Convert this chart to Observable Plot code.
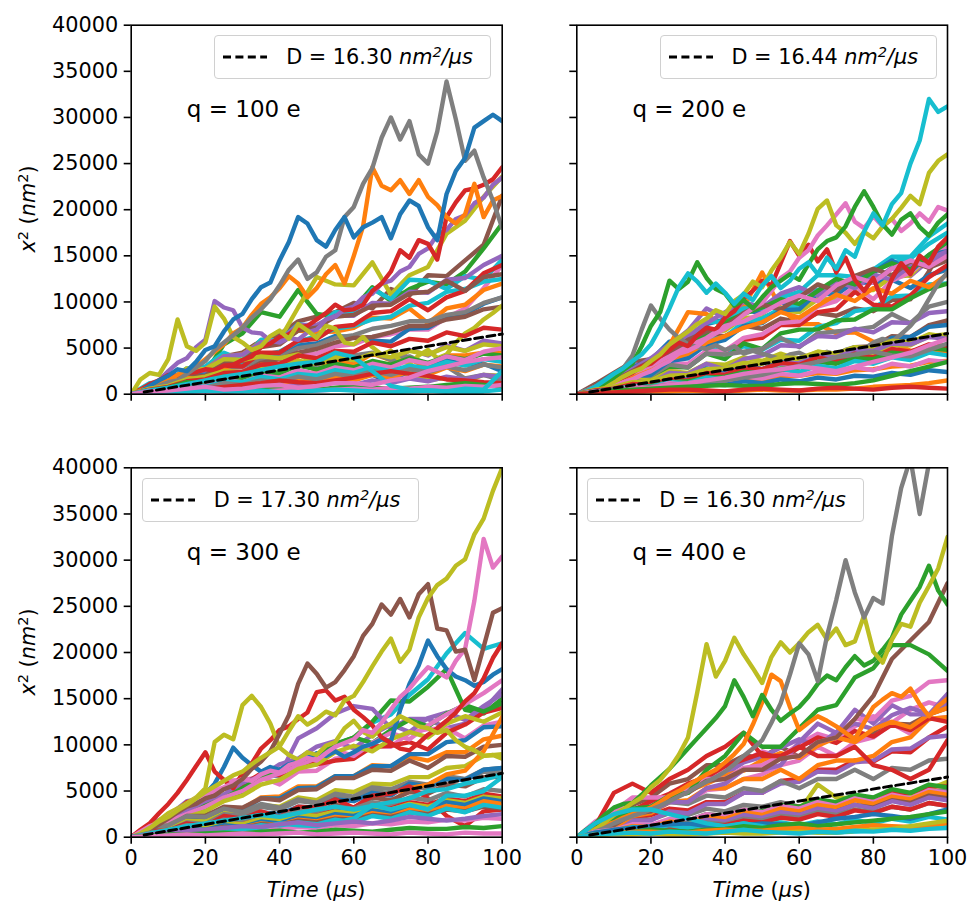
<!DOCTYPE html>
<html>
<head>
<meta charset="utf-8">
<script src="https://cdn.jsdelivr.net/npm/d3@7"></script>
<script src="https://cdn.jsdelivr.net/npm/@observablehq/plot@0.6"></script>
<style>
  html, body { margin: 0; padding: 0; background: #fff; }
  #fig { position: relative; width: 972px; height: 905px; font-family: "DejaVu Sans", sans-serif; color: #000; }
  #fig > svg { position: absolute; }
  .legend { position: absolute; box-sizing: border-box; width: 277px; height: 44px; border: 1.5px solid #d0d0d0; border-radius: 4px;
            background: rgba(255,255,255,0.8); display: flex; align-items: center; padding-left: 8px; font-size: 20.8px; white-space: nowrap; }
  .legend svg { flex: none; margin-right: 19px; }
  .sup { font-size: 0.7em; position: relative; top: -0.5em; }
  .ylab { position: absolute; font-size: 20.8px; white-space: nowrap; transform: translate(-50%, -50%) rotate(-90deg); }
  .xlab { position: absolute; font-size: 20.8px; white-space: nowrap; transform: translate(-50%, -50%); }
</style>
</head>
<body>
<div id="fig"></div>
<script>
// Matplotlib "tab10" colour cycle, keyed C0..C9
const seriesKeys = ["C0", "C1", "C2", "C3", "C4", "C5", "C6", "C7", "C8", "C9"];
const tab10 = ["#1f77b4", "#ff7f0e", "#2ca02c", "#d62728", "#9467bd", "#8c564b", "#e377c2", "#7f7f7f", "#bcbd22", "#17becf"];

const charges = [100, 200, 300, 400];          // q (e)
const diffusion = [16.30, 16.44, 17.30, 16.30]; // fitted D (nm^2/us)
const xTicks = [0, 20, 40, 60, 80, 100];
const yTicks = [0, 5000, 10000, 15000, 20000, 25000, 30000, 35000, 40000];
const fitStart = 3.5;                 // first time (us) of the fitted line
const chargeLabelAt = [15, 30000];    // data position of the "q = ... e" note

// Sampling times (us): fine grid for the leading trajectories, coarse grid for the rest
const timeFine = [0,2.5,5,7.5,10,12.5,15,17.5,20,22.5,25,27.5,30,32.5,35,37.5,40,42.5,45,47.5,
                  50,52.5,55,57.5,60,62.5,65,67.5,70,72.5,75,77.5,80,82.5,85,87.5,90,92.5,95,97.5,100];
const timeCoarse = [0,5,10,15,20,25,30,35,40,45,50,55,60,65,70,75,80,85,90,95,100];

// Squared displacement x^2 (nm^2) of each trajectory, in drawing order
const trajQ100 = [
  ["C5", [0,600,1100,2300,2900,4100,4500,5800,6500,7900, 8400,8900,9900,9300,11400,10700,12900,12800,14500,16200,21500]],
  ["C2", [0,900,1300,2400,2300,5400,6600,8900,8400,11300, 8700,8400,9300,11600,10100,11400,12200,11900,13300,15800,18500]],
  ["C8", [0,700,900,2000,2400,3700,4300,5700,5900,9400, 12700,11900,11800,14300,10800,12900,13800,17400,18800,21400,23600]],
  ["C9", [0,1200,1400,2800,3000,4500,3700,5900,5800,7600, 7300,8900,8800,11400,10300,12400,12300,11400,12800,12400,14600]],
  ["C6", [0,500,600,1200,1700,2700,2800,3400,3300,4300, 4400,5200,5400,6200,6500,7000,7000,8300,9300,11500,14000]],
  ["C1", [0,800,1300,2500,2700,4100,4300,5600,5700,6900, 6700,6800,7200,8300,8200,9300,7700,9300,9700,11300,12000]],
  ["C0", [0,700,1000,2100,2200,3300,3200,4100,4200,5300, 5500,6300,6200,5800,5700,7100,7200,8300,8700,9800,10500]],
  ["C9", [0,700,900,1700,2000,3000,3200,4200,4600,5700, 6300,7100,7400,8100,8400,9600,9900,11100,11400,12200,12500]],
  ["C7", [0,600,800,1600,1800,2800,3000,3800,4000,5000, 5300,6100,6400,7100,7400,7900,7900,8600,8900,9900,10500]],
  ["C3", [0,600,700,1800,1700,3100,3000,4500,4500,5800, 6000,7300,7500,8800,9000,10300,9100,10500,11200,13100,14000]],
  ["C4", [0,800,1100,2400,2600,4100,4300,5600,5800,7500, 7500,8500,8500,9900,9800,11100,11000,12400,12600,14000,15000]],
  ["C5", [0,600,800,1900,2000,3400,3600,5100,5400,6900, 7200,8400,8600,9600,9700,10900,11100,12300,11200,12700,13000]],
  ["C5", [0,600,600,1400,1300,2200,2400,3400,3800,4500, 4900,5600,6100,6200,6700,7400,7400,8100,8400,9200,9500]],
  ["C4", [0,500,400,1300,1200,2300,2200,2500,2200,3300, 2700,3800,3200,3300,3200,4800,4200,5300,4700,5800,5500]],
  ["C8", [0,1000,1300,2800,2700,3800,3700,4100,3900,4300, 3300,3500,2700,2900,1900,2300,1500,1800,1300,2100,2000]],
  ["C1", [0,800,1000,1800,1500,2700,2200,3200,2900,3700, 2500,3600,3200,4400,3700,3800,2900,4200,4200,4500,4500]],
  ["C0", [0,700,600,1300,900,1800,800,1700,1500,2300, 1900,2900,1700,2100,1200,2700,2700,3700,3200,3300,2500]],
  ["C7", [0,500,300,1100,800,1700,1500,2300,2200,3300, 3200,4300,4200,4500,3700,4100,3200,3000,1700,2100,1500]],
  ["C4", [0,300,800,1500,2500,3400,3900,5100,5900,10100, 9400,9100,7200,6700,6600,5800,5600,6100,5900,6700,
          7000,8100,8400,9200,9500,10500,10900,12000,12300,13300, 13800,15200,15800,17300,17800,19000,19400,20700,21300,22700,23500]],
  ["C3", [0,500,1100,1500,2100,2000,2300,2400,2700,2600, 3100,3200,3700,4100,5100,5500,6200,6500,7200,7400,
          8100,8800,9700,9100,9200,9700,11200,12000,13300,15600, 14800,16700,16300,14600,19200,20800,22100,22300,22700,23300,24600]],
  ["C8", [0,1600,2300,2100,3800,8100,5200,4700,5600,9500, 8200,6200,5600,4800,5200,6300,6900,6000,7600,6900,
          6100,7400,7100,5600,5400,6200,5100,4300,4700,3600, 3300,4200,4800,3900,4300,5600,6600,7200,8100,8800,9600]],
  ["C1", [0,400,800,1300,1500,2100,2600,3000,3800,4600, 5400,6600,7200,8600,9800,10500,11500,12800,12000,10500,
          11500,13000,14000,12000,15000,18200,24600,22600,22100,23200, 21700,23200,21400,20500,19200,18500,19500,22800,19200,21000,21500]],
  ["C7", [0,200,400,900,1300,1500,2200,2900,3600,4800, 5600,6400,7200,8300,9200,10300,11800,13500,14600,12500,
          13200,14900,15600,19200,20300,22800,24500,27800,30000,27600, 29600,26000,25000,28500,33900,29800,25300,26400,23500,21000,18000]],
  ["C0", [0,300,900,1500,2000,2700,2500,3500,4800,5200, 6800,8100,8700,10300,11600,12100,14500,16500,19200,18500,
          16700,16000,17800,19200,17000,18100,18600,19200,16900,19500, 21000,20400,18100,16700,21700,24200,25600,28900,29600,30300,29600]],
  ["C8", [0,600,900,1600,1900,2500,2400,3100,3000,3600, 3300,4000,3700,4400,4000,4700,4300,5100,4700,5400,5200]],
  ["C3", [0,500,800,1400,1600,2300,2400,3200,3300,4200, 3900,4700,4600,5600,5200,6000,5800,6700,6300,7200,7000]],
  ["C2", [0,400,700,1300,1200,1900,1700,2600,2300,3100, 2700,3300,2900,3600,3200,3900,3400,4100,3800,4400,4200]],
  ["C6", [0,400,500,1000,900,1500,1300,2000,1800,2600, 2200,2900,2600,3300,2900,3700,3300,4100,3700,4600,5000]],
  ["C9", [0,300,600,900,800,1400,1300,1900,1600,2200, 2000,2600,2300,2900,2500,3100,2800,3500,3100,3800,3500]],
  ["C1", [0,300,400,700,600,1000,800,1300,1100,1500, 1300,1800,1500,2100,1800,2500,2100,2900,2500,3200,3000]],
  ["C7", [0,300,500,800,700,1200,1000,1500,1300,1900, 1600,2200,1900,2500,2100,2700,2400,3000,2600,3200,2900]],
  ["C4", [0,200,300,500,400,700,600,900,700,1100, 900,1300,1000,1500,1200,1700,1400,1900,1600,2100,1900]],
  ["C3", [0,200,300,500,600,800,1000,1200,1500,1300, 1200,1500,1800,2200,2500,2200,2000,1600,1500,1300,1200]],
  ["C2", [0,200,300,400,500,300,400,600,700,600, 500,700,900,700,600,700,800,1000,1200,1000,800]],
  ["C6", [0,100,200,200,300,300,400,300,400,500, 400,500,600,500,700,600,800,700,900,800,1000]],
  ["C9", [0,200,300,200,400,300,300,400,200,300, 400,500,400,300,200,300,400,300,200,300,500]],
  ["C9", [0,400,700,1100,1500,1900,2200,2600,3000,3300, 3500,4500,4000,2500,900,500,400,300,600,500,2500]],
  ["C6", [0,300,400,600,800,500,600,900,1000,700, 900,1200,1200,1000,1500,1800,2500,3000,3500,3800,4000]]
];

const trajQ200 = [
  ["C5", [0,1100,2300,3500,3800,5100,5300,6500,6300,7400, 7100,8200,7800,8800,8500,9300,9000,10200,10300,13300,17000]],
  ["C4", [0,700,1000,3300,2800,5300,6900,9300,8300,9800, 8800,10700,10800,11300,11800,11900,12200,13700,12800,14500,15000]],
  ["C0", [0,800,2200,2900,3700,5700,6100,7600,8100,9100, 8800,10000,9100,10900,10800,12200,12100,12400,11500,12900,13500]],
  ["C1", [0,500,600,1800,1800,5300,8900,8700,7100,9400, 13200,9300,7600,7600,6600,6700,5700,5600,4700,4900,4500]],
  ["C9", [0,700,1100,2500,2800,4700,5300,5300,4300,5200, 4800,5900,5800,7300,7700,9000,9300,10600,10700,11900,12000]],
  ["C8", [0,800,1300,2700,3300,4900,5500,6800,6900,8300, 8300,9100,8900,10300,10300,11300,11300,12700,12900,14900,16000]],
  ["C9", [0,600,800,2100,2200,3800,4200,5800,6200,7800, 8200,9300,9700,11300,11200,12800,13200,14300,14700,16300,17500]],
  ["C3", [0,500,500,1500,1500,2900,3000,4500,4700,5900, 6100,7500,7500,8900,9200,11100,9700,9500,10700,12700,14000]],
  ["C6", [0,600,700,1800,1900,3300,3300,4700,4700,6100, 6500,7700,7900,9500,10100,11700,10300,12300,13200,14800,16000]],
  ["C2", [0,500,600,1700,1700,3000,2900,4400,3800,5500, 4900,6600,7000,7000,8000,8100,9200,9200,10400,11400,12000]],
  ["C7", [0,700,900,1900,2000,3200,2900,4400,4300,4600, 4900,6100,5100,6600,6800,7000,7300,8700,7700,9500,10000]],
  ["C9", [0,700,1000,2300,2900,5100,6200,7800,7900,9300, 9300,10500,11100,12900,12900,12700,13500,14900,14900,17100,18500]],
  ["C0", [0,600,800,1900,2100,3600,3900,5400,5900,7400, 7700,9100,9200,11100,11300,12500,13200,14500,13300,15100,15500]],
  ["C4", [0,800,1600,2700,3900,5400,6300,7700,8900,10000, 9400,10900,11600,10700,12300,11500,13000,12400,13900,14700,15500]],
  ["C2", [0,600,1400,2200,3300,4300,5700,6400,7800,8700, 9400,10300,9800,11200,12500,11900,13300,14200,13500,15100,16500]],
  ["C5", [0,700,1500,2500,3600,4400,5900,6800,7300,8800, 9700,9200,10500,11900,11200,12800,13600,12900,14400,13700,14500]],
  ["C1", [0,400,1100,1900,2700,3800,4400,5600,6300,7200, 7800,8900,8300,9600,10800,10100,11500,10900,12300,11600,13000]],
  ["C6", [0,500,1300,2300,3100,4100,5200,6100,7400,7900, 8800,9900,10700,10100,11800,12700,12100,13600,14500,13800,15000]],
  ["C8", [0,600,700,1600,1500,2500,2300,3300,3200,4000, 3600,4400,3700,4600,4300,4700,4300,5300,5300,6300,6500]],
  ["C5", [0,500,300,1100,800,1500,1200,2100,1900,2900, 2700,3600,3200,4100,3700,5100,5200,6300,6200,7500,8000]],
  ["C4", [0,600,400,1500,1200,2300,2200,3300,2700,3800, 4200,5300,5200,6300,6200,7100,6700,7800,7700,8800,9000]],
  ["C0", [0,500,300,1200,900,1900,1700,2800,2200,3300, 2700,3500,3200,4300,4200,5100,4700,6100,6200,7300,7500]],
  ["C7", [0,300,800,1200,2100,2800,4200,7000,9600,8200, 7000,6100,5400,5100,4900,5300,4800,5200,4400,4700,
          4400,4100,3800,4300,4500,4000,4100,4600,4300,4800, 5100,4900,5600,6000,5700,6500,7400,8600,10300,12000,13200]],
  ["C3", [0,200,500,900,1200,1800,2300,3000,3300,4100, 4800,5600,5200,6400,7200,7000,8300,9000,10400,11200,
          12300,11800,14200,16600,15000,16200,14400,15700,13200,14800, 12400,11200,12600,10000,12500,14200,13000,15000,14200,16000,17000]],
  ["C6", [0,200,400,700,900,1300,1600,2100,2500,3100, 3600,4400,4700,5200,6000,6600,7100,7800,8600,9300,
          9900,11200,12600,13300,14800,15600,17200,18300,19500,20700, 18700,18000,19300,18200,19000,17700,18500,19600,18700,20300,19900]],
  ["C8", [0,200,500,1000,1300,1900,2400,2800,3600,4300, 5400,6100,6800,7600,8200,9100,8700,10100,10800,12200,
          11600,13400,14800,16500,15200,17400,20100,21000,18300,17500, 16300,17600,16900,18200,19000,20200,21500,20600,24000,25300,26000]],
  ["C2", [0,200,600,1200,1800,2600,3300,5200,7400,8900, 12300,11400,12200,14300,12600,11400,10900,9600,10200,9300,
          10500,11600,12300,13000,12400,14100,15700,16600,17000,18200, 20300,22000,20300,18400,17300,18900,19600,18100,17200,18600,19500]],
  ["C9", [0,300,800,1500,2200,2800,3600,4300,5400,7200, 9300,11600,13100,12200,11000,12000,11000,9800,10900,10200,
          11800,12800,11500,12300,13600,14300,13000,14800,13600,15600, 14900,17600,19600,18300,20600,21800,25000,27500,32000,30600,31200]],
  ["C8", [0,500,800,1300,1400,2000,2100,2700,2800,3400, 3300,4000,3900,4600,4400,5100,5000,5800,5600,6500,6200]],
  ["C4", [0,300,600,900,1000,1500,1600,2100,2200,2800, 2700,3300,3400,4100,4000,4800,4700,5500,5400,6200,6000]],
  ["C3", [0,400,600,1100,1000,1600,1500,2300,2100,2900, 2700,3400,3200,4000,3600,4400,4000,4900,4600,5400,5200]],
  ["C2", [0,300,500,800,900,1300,1400,1800,1900,2400, 2300,2800,2900,3500,3300,3900,3800,4500,4300,5000,4800]],
  ["C9", [0,300,500,900,800,1300,1200,1800,1600,2200, 2000,2700,2400,3100,2800,3600,3300,4000,3700,4500,4200]],
  ["C1", [0,200,400,500,700,900,1100,1200,1400,1600, 1500,1900,2000,2300,2200,2600,2700,3000,3100,3500,3600]],
  ["C6", [0,300,400,800,700,1200,1000,1500,1400,1900, 1700,2200,2000,2500,2300,2900,2600,3300,3000,3700,3500]],
  ["C0", [0,200,400,600,500,900,800,1100,1000,1400, 1200,1600,1400,1800,1600,2000,1900,2300,2100,2600,2400]],
  ["C7", [0,200,400,600,800,1000,1200,1400,1500,1800, 2100,2600,3100,3500,4000,4300,4600,4200,4100,4800,5500]],
  ["C6", [0,200,300,600,700,1000,1200,1500,1800,2200, 2500,2700,3000,2800,2500,3000,3500,4000,4500,5300,6000]],
  ["C2", [0,200,400,500,600,700,800,900,1000,900, 900,1100,1200,1100,1000,1200,1500,2000,2500,3000,3500]],
  ["C1", [0,100,200,200,300,300,400,300,300,400, 500,400,400,500,500,600,800,900,1000,1200,1500]],
  ["C3", [0,100,200,300,400,500,500,400,300,500, 600,500,400,600,700,600,500,700,800,700,600]]
];

const trajQ300 = [
  ["C9", [0,900,1300,2900,3200,4600,4800,6500,6700,8400, 8700,10100,10700,12400,13300,15400,17100,19900,22100,20400,21000]],
  ["C2", [0,800,1300,2600,2700,4400,4700,6500,7300,8400, 8300,10000,10800,12500,14800,14700,16300,18200,13800,13400,15000]],
  ["C4", [0,1400,2300,3900,4200,5300,5300,6700,6700,10700, 11800,13400,14200,13900,11800,12800,12800,11800,12300,13800,16000]],
  ["C6", [0,1000,1600,3500,4700,6100,6200,6500,5700,7100, 7200,8500,8800,9900,9800,11300,11700,11800,10700,12100,12500]],
  ["C3", [0,1200,2000,3800,4200,5300,5700,6900,6700,7900, 7900,8300,8500,9800,9900,10300,9500,11300,12200,13500,14000]],
  ["C4", [0,900,1900,2800,3800,4600,5900,6600,7900,8500, 9800,10400,9600,11100,12200,11400,12900,13500,12700,14200,15500]],
  ["C2", [0,700,1500,2300,3400,4200,5300,6400,7100,8300, 8900,10100,10800,10200,11600,12700,12000,13400,14300,13600,14500]],
  ["C6", [0,800,1700,2500,3300,4300,5000,6200,6900,7700, 8600,9400,8800,10200,11300,10600,12100,13300,14400,15600,17000]],
  ["C8", [0,600,1300,2200,2800,3900,4500,5700,6200,7400, 7900,9200,9900,9300,10600,11400,10800,12300,13100,12500,13500]],
  ["C1", [0,700,900,2000,2000,3200,3100,4300,4400,5500, 5500,6600,6600,7800,7700,8700,8300,9200,9200,10600,11000]],
  ["C0", [0,700,800,1900,1800,3100,3000,4200,4200,5300, 5400,6600,6600,7700,7700,9000,9000,10300,10500,11900,12000]],
  ["C5", [0,900,1100,2300,2300,3300,3200,4200,4000,5100, 5200,6400,6400,7300,7200,8300,7500,8800,8700,9800,10000]],
  ["C8", [0,700,800,1800,1700,2600,2500,3500,3300,4300, 4000,5100,4900,5800,5700,6500,6500,7500,7700,8800,9000]],
  ["C7", [0,1000,1300,2300,2200,3100,2700,3600,3200,4100, 3700,4500,4200,5100,4700,5500,5200,6300,6200,7100,7000]],
  ["C7", [0,600,700,1600,1400,2500,2300,3300,3000,3900, 3700,4700,4400,5400,5200,6000,5700,6600,6300,7300,7500]],
  ["C0", [0,500,400,1200,900,1800,1600,2700,2500,3300, 3200,4100,3900,4800,4500,5800,5500,6300,6200,7300,7500]],
  ["C1", [0,500,300,1100,700,1400,900,1800,1500,2200, 1700,2500,2200,3500,3700,5300,5700,6800,7200,9300,13000]],
  ["C5", [0,400,300,1100,900,1800,1500,2300,2000,3000, 2700,3500,3200,4300,4000,4900,4700,5700,5500,6500,6500]],
  ["C3", [0,700,700,1500,1200,2300,2000,2800,2200,3300, 3200,4100,3200,4500,4700,5500,4200,2300,1200,2800,3000]],
  ["C0", [0,600,1200,1700,2100,2900,3600,4100,4700,5800, 7600,9700,8600,7800,7100,7600,7300,7900,8200,8600,
          9100,8800,9300,8700,9200,9800,10100,10600,10400,13800, 16600,18600,21300,19600,18200,17400,17000,16400,16800,17600,18200]],
  ["C3", [0,800,1500,2600,3600,4800,6200,7700,9200,7100, 6200,5300,6900,8000,9600,10500,11600,12000,12800,13500,
          15700,15900,14800,15200,13800,13000,12100,10800,10200,9600, 9400,10200,11100,11800,12600,13500,14700,15600,17200,19400,21000]],
  ["C8", [0,500,1100,1800,2600,3100,3700,4300,5300,10300, 11100,10600,14300,15300,14100,12300,9700,8900,8400,9200,
          8900,9900,10300,11800,12600,11400,10900,11800,12300,13100, 12600,12000,11800,11300,11600,10500,9800,9400,8800,8900,8500]],
  ["C6", [0,600,1200,1500,2200,2900,3500,4200,4600,5000, 5400,5900,6300,6100,6800,7200,7000,7800,8100,8600,
          8300,9100,9800,10200,10600,11600,11300,12400,13800,15200, 16100,17300,18400,17900,17300,19100,20400,25600,32300,29200,30400]],
  ["C5", [0,300,800,1400,2000,2700,3300,3600,4200,4500, 5200,5600,6300,7400,8200,9300,11200,13200,16600,18800,
          17700,16200,16800,18100,19600,21800,23100,25200,24100,25800, 23800,26300,27400,22600,22400,20100,20300,17000,20600,24300,24800]],
  ["C8", [0,400,1000,1700,2200,2900,3500,4200,4900,5500, 6100,6700,7100,7900,8600,9200,9800,11500,13100,12200,
          12800,13600,13200,14800,15300,16800,18500,20100,21500,19000, 20300,23800,25900,27300,28000,29400,30100,32800,34500,37500,40000]],
  ["C7", [0,500,700,1300,1200,1900,1800,2400,2200,2900, 2700,3300,3100,3800,3500,4300,4000,4800,4400,5200,5000]],
  ["C3", [0,400,600,1000,900,1500,1400,2000,1800,2500, 2300,2900,2700,3400,3100,3800,3500,4200,3900,4700,4400]],
  ["C8", [0,400,600,1000,1000,1500,1400,2000,1900,2500, 2300,2800,2600,3200,3000,3600,3300,4000,3700,4400,4200]],
  ["C0", [0,300,500,900,800,1300,1100,1700,1500,2100, 1900,2500,2300,2900,2600,3300,3000,3800,3500,4200,3900]],
  ["C1", [0,300,500,800,700,1100,1000,1500,1300,1900, 1700,2200,2000,2600,2300,3000,2700,3400,3100,3900,3600]],
  ["C5", [0,300,400,700,700,1100,1000,1400,1300,1800, 1600,2000,1900,2400,2200,2700,2500,3000,2800,3300,3100]],
  ["C9", [0,300,400,700,600,1000,900,1300,1100,1600, 1400,1900,1600,2300,2000,2700,2300,3100,2700,3500,3200]],
  ["C6", [0,200,300,500,400,700,600,900,800,1100, 1000,1300,1200,1500,1400,1700,1600,1900,1800,2100,2000]],
  ["C9", [0,200,400,500,500,600,800,1000,1500,1300, 1200,1600,2000,3500,3000,3500,3000,4500,4500,5000,6500]],
  ["C9", [0,400,800,1200,1500,1800,2100,2400,2200,2600, 3000,3300,3000,3400,3800,4200,5000,5200,5800,6200,6800]],
  ["C4", [0,300,500,700,800,1000,1200,1100,1400,1600, 1300,1500,1700,1500,1800,2200,2000,1800,2000,2300,2500]],
  ["C2", [0,200,300,300,400,500,400,600,700,500, 600,800,700,600,800,1000,900,900,1100,1000,1200]],
  ["C6", [0,100,200,300,200,300,400,300,400,500, 300,400,500,400,300,500,400,300,500,400,400]]
];

const trajQ400 = [
  ["C7", [0,1000,1100,2100,1900,2600,2400,3100,2800,3500, 3300,3800,3300,4000,3300,4100,3800,4500,4300,5000,5000]],
  ["C3", [0,1100,1400,2300,2400,3100,2900,3800,3800,4800, 4800,6100,6300,7300,7300,8300,8200,9300,9200,10800,12000]],
  ["C8", [0,800,900,1100,900,1100,700,1000,600,1000, 800,2200,2800,5700,4300,4200,3300,4200,4300,5200,6000]],
  ["C5", [0,1400,2300,3500,4300,5800,6300,7800,7800,8800, 8700,9800,8700,10300,10700,10800,11200,12300,12200,13300,14000]],
  ["C6", [0,1000,1400,2800,2800,3800,3800,5100,5300,6300, 6800,7800,8300,9800,8800,10300,10800,12300,11200,12800,13000]],
  ["C4", [0,700,800,1800,1800,2800,2600,3600,3600,4800, 4800,5800,6000,7100,7000,8100,8300,9500,9600,10800,11000]],
  ["C1", [0,700,1000,2300,2600,3800,4000,5300,5300,6300, 6300,7300,6300,7800,8300,8300,8800,10300,10800,12800,13000]],
  ["C7", [0,900,1300,2500,2800,3800,3600,4500,4300,5300, 5000,6100,5300,6300,6300,7300,6300,7500,7300,8300,8500]],
  ["C3", [0,500,400,1200,1000,1800,1600,2300,2100,2800, 2600,3500,3300,3600,3600,4500,3800,4800,4800,5500,5500]],
  ["C6", [0,900,1800,2600,3700,4500,5600,6300,7500,8200, 9300,8700,10100,11200,10600,12000,13100,12400,13800,14600,14000]],
  ["C4", [0,800,1600,2400,3300,4300,5100,6200,6800,8100, 8700,9700,10600,9900,11400,12300,11700,13200,14000,13300,14500]],
  ["C3", [0,1100,2000,2900,3900,4700,5800,6500,7700,8400, 9100,8500,9700,10800,10200,11500,10900,12200,11600,12900,12500]],
  ["C1", [0,800,1500,2500,3200,4100,5000,5800,6700,7200, 8300,9100,8600,9900,10800,10300,11700,12500,11900,13300,14000]],
  ["C4", [0,1200,1800,2800,2800,3800,3800,5300,5800,7300, 7300,7800,10300,12300,11300,13800,12300,14300,13300,13300,15500]],
  ["C6", [0,1700,2800,4300,4300,4300,5300,6300,6300,7500, 7800,8800,8800,10300,10800,12800,12800,14800,15300,16800,17000]],
  ["C3", [0,1200,4800,5800,4800,6300,7300,8800,9800,11300, 8800,8800,9800,8800,8800,9800,7800,7300,6300,7300,10500]],
  ["C5", [0,1000,1300,2500,2800,4300,4800,6100,6300,7300, 7300,8500,8800,10300,10800,12800,15300,19300,21300,23300,27500]],
  ["C2", [0,1200,1800,3100,3300,4500,4800,7300,8800,11300, 9800,9800,11800,13800,14300,17300,18300,20800,20800,19800,18000]],
  ["C1", [0,500,900,1300,1600,2100,2500,2800,3200,3800, 4500,5000,5600,6200,6800,7300,8100,9000,10100,12200,
          14600,17600,16900,14100,11600,12400,13100,12600,12000,11300, 10600,12400,14100,14900,15600,15200,16100,14400,13100,14200,15000]],
  ["C2", [0,800,1500,2400,3200,3600,3700,4600,5600,6500, 7400,8500,9600,10700,11800,12900,14200,17000,15200,13100,
          15400,13800,12600,13400,14100,15200,16600,17500,17000,18400, 19600,18600,19100,20300,21600,24100,25600,27100,29400,26700,25200]],
  ["C8", [0,300,800,1600,2400,3000,3700,4300,5400,6200, 7400,8900,10800,15700,20900,17400,19100,21600,19800,18300,
          16700,19500,21100,20000,21000,22200,23000,21400,22600,20800, 21200,24000,20100,18900,21400,23100,22800,25400,27200,29100,32500]],
  ["C7", [0,300,600,1000,1500,1900,2300,2600,3000,3400, 3900,4400,4900,5500,6000,6500,7100,7900,8800,9600,
          10500,12400,14500,17600,21000,19800,16900,21800,25700,30000, 26500,23800,25900,25300,32600,37800,41000,35000,40500,43000,46000]],
  ["C2", [0,500,800,1300,1200,1900,1800,2500,2300,3000, 2800,3500,3300,4100,3800,4600,4300,5200,4800,5700,5400]],
  ["C6", [0,600,800,1400,1300,2000,1800,2500,2300,3000, 2700,3400,3100,3800,3400,4200,3800,4600,4200,5100,4800]],
  ["C1", [0,500,700,1200,1100,1700,1500,2200,2000,2700, 2400,3100,2800,3500,3200,4000,3600,4400,4100,4900,4600]],
  ["C5", [0,400,600,900,900,1300,1200,1700,1600,2200, 2000,2600,2400,3000,2800,3500,3200,4000,3700,4500,4200]],
  ["C4", [0,400,600,1000,900,1500,1300,1900,1700,2400, 2100,2700,2400,3100,2800,3500,3100,3900,3500,4300,4000]],
  ["C7", [0,400,500,900,800,1300,1100,1600,1400,2000, 1800,2300,2100,2700,2400,3000,2700,3300,3000,3700,3400]],
  ["C3", [0,300,500,800,700,1100,1000,1400,1300,1800, 1600,2100,1900,2500,2200,2900,2600,3300,3000,3700,3400]],
  ["C9", [0,500,700,1100,900,1300,1000,1400,1100,1500, 1200,1600,1300,1700,1400,1900,1500,2000,1700,2200,1900]],
  ["C0", [0,500,800,1000,1200,1400,1500,1200,1000,1300, 1500,1400,1200,1600,2000,2200,2500,2300,2000,2500,3000]],
  ["C9", [0,1500,2500,3000,3000,2500,2000,1500,1200,1500, 1200,800,600,500,500,600,700,800,900,1200,1500]],
  ["C2", [0,200,400,600,800,700,600,800,900,1200, 1000,1300,1500,1200,1400,1600,1800,2000,2200,2500,2800]],
  ["C1", [0,300,400,600,600,500,500,700,800,700, 700,900,1000,800,900,1100,1300,1200,1100,1300,1500]],
  ["C8", [0,200,300,300,400,300,300,400,500,400, 400,500,600,500,500,700,800,900,1200,1500,1800]],
  ["C9", [0,300,400,500,400,600,500,400,600,800, 600,500,400,600,500,700,600,800,700,900,1000]]
];

const trajectories = [trajQ100, trajQ200, trajQ300, trajQ400];

// Page geometry of the four axes: svg box, plot margins, which tick labels are shown
const layout = [
  {left: 0,   top: 0,   width: 510, height: 440, mt: 24.7, mb: 46.3, ml: 130.7, mr: 8.3, xLab: false, yLab: true,  legend: "right"},
  {left: 510, top: 0,   width: 462, height: 440, mt: 24.7, mb: 46.3, ml: 66.3,  mr: 25,  xLab: false, yLab: false, legend: "right"},
  {left: 0,   top: 440, width: 510, height: 465, mt: 27.3, mb: 68.3, ml: 130.7, mr: 8.3, xLab: true,  yLab: true,  legend: "left"},
  {left: 510, top: 440, width: 462, height: 465, mt: 27.3, mb: 68.3, ml: 66.3,  mr: 25,  xLab: true,  yLab: false, legend: "left"}
];

const fig = document.getElementById("fig");
const DASH = "8,4.4";

layout.forEach((L, i) => {
  const rows = [];
  trajectories[i].forEach(([key, values], k) => {
    const times = values.length === timeFine.length ? timeFine : timeCoarse;
    values.forEach((v, j) => { if (j < times.length) rows.push({id: k, key, t: times[j], v}); });
  });
  const fit = [fitStart, 100].map(t => ({t, v: 4 * diffusion[i] * t}));
  const note = [{t: chargeLabelAt[0], v: chargeLabelAt[1], s: `q = ${charges[i]} e`}];

  const svg = Plot.plot({
    width: L.width, height: L.height,
    marginTop: L.mt, marginBottom: L.mb, marginLeft: L.ml, marginRight: L.mr,
    x: {domain: [0, 100]},
    y: {domain: [0, 40000]},
    color: {domain: seriesKeys, range: tab10},
    style: {fontFamily: "DejaVu Sans, sans-serif", fontSize: "20.8px", color: "black", background: "transparent", overflow: "visible"},
    marks: [
      Plot.line(rows, {x: "t", y: "v", z: "id", stroke: "key", strokeWidth: 4.4, strokeLinejoin: "round", clip: true}),
      Plot.line(fit, {x: "t", y: "v", stroke: "black", strokeWidth: 3, strokeDasharray: DASH}),
      Plot.text(note, {x: "t", y: "v", text: "s", textAnchor: "start", lineAnchor: "bottom", fontSize: 23, fill: "black"}),
      Plot.axisX({ticks: xTicks, tickSize: 7, tickPadding: 6, strokeWidth: 1.6, label: null,
                  tickFormat: L.xLab ? d => String(d) : () => ""}),
      Plot.axisY({ticks: yTicks, tickSize: 7, tickPadding: 6, strokeWidth: 1.6, label: null,
                  tickFormat: L.yLab ? d => String(d) : () => ""}),
      Plot.frame({stroke: "black", strokeWidth: 1.6})
    ]
  });
  svg.style.left = L.left + "px";
  svg.style.top = L.top + "px";
  fig.appendChild(svg);

  // legend box for the fitted line
  const box = document.createElement("div");
  box.className = "legend";
  const frameLeft = L.left + L.ml, frameRight = L.left + L.width - L.mr;
  box.style.top = (L.top + L.mt + 10.5) + "px";
  box.style.left = (L.legend === "right" ? frameRight - 10.5 - 277 : frameLeft + 11) + "px";
  box.innerHTML = `<svg width="44" height="8"><line x1="0" x2="44" y1="4" y2="4" stroke="black" stroke-width="3" stroke-dasharray="${DASH}"/></svg>` +
    `<span>D = ${diffusion[i].toFixed(2)} <i>nm<span class="sup">2</span>/μs</i></span>`;
  fig.appendChild(box);

  if (L.yLab) {
    const yl = document.createElement("div");
    yl.className = "ylab";
    yl.style.left = "28px";
    yl.style.top = (L.top + L.mt + (L.height - L.mt - L.mb) / 2) + "px";
    yl.innerHTML = `<i>x</i><span class="sup">2</span> (<i>nm</i><span class="sup">2</span>)`;
    fig.appendChild(yl);
  }
  if (L.xLab) {
    const xl = document.createElement("div");
    xl.className = "xlab";
    xl.style.left = (L.left + L.ml + (L.width - L.ml - L.mr) / 2) + "px";
    xl.style.top = "890px";
    xl.innerHTML = `<i>Time</i> (<i>μs</i>)`;
    fig.appendChild(xl);
  }
});
</script>
</body>
</html>
